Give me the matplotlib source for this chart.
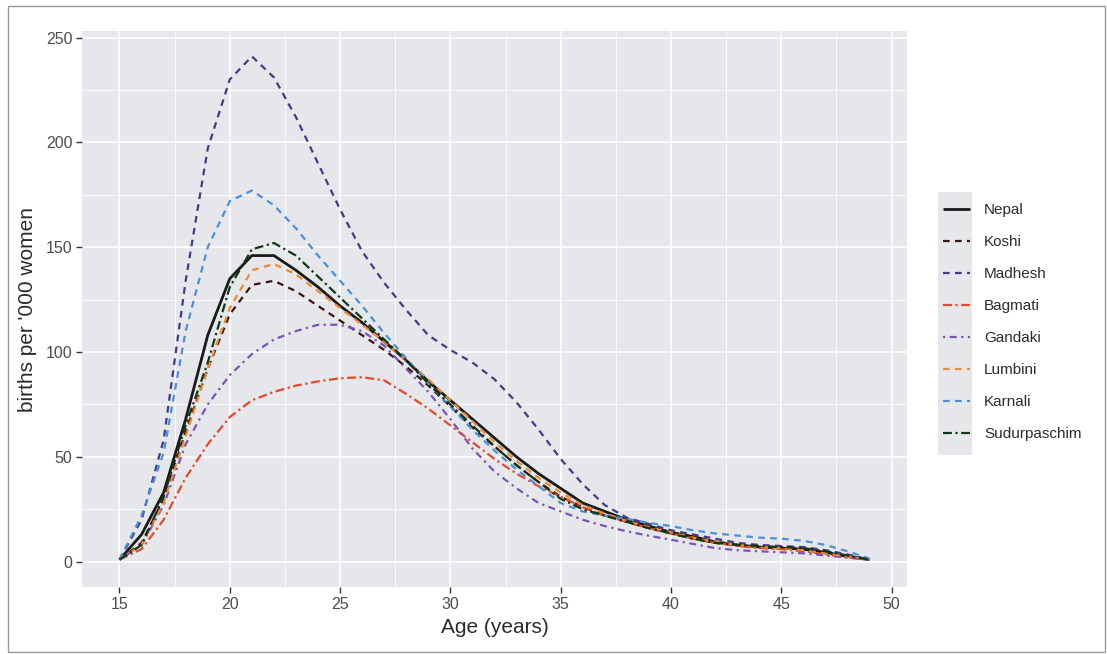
import matplotlib
matplotlib.use("Agg")
import matplotlib.pyplot as plt
from matplotlib.patches import Rectangle
from matplotlib.ticker import MultipleLocator

plt.rcParams["font.family"] = ["Liberation Sans", "DejaVu Sans"]

# Age-specific fertility rates (births per '000 women), single years of age
ages = list(range(15, 50))

nepal = [1, 13, 33, 68, 108, 135, 146, 146, 139, 131, 122, 114, 105, 96, 86,
         77, 68, 59, 50, 42, 35, 28, 24, 20, 17, 14, 12, 9.5, 8, 7, 6.5, 6,
         4.5, 2.5, 1]
koshi = [1, 9, 30, 62, 92, 118, 132, 134, 129, 122, 115, 108, 101, 93, 84,
         74, 64, 55, 46, 38, 31, 26, 22, 19, 16, 13.5, 11, 9, 8, 7, 6.5, 5.5,
         4, 2.5, 1]
madhesh = [1, 20, 58, 134, 197, 230, 241, 231, 212, 190, 168, 148, 133, 120,
           108, 101, 95, 87, 76, 63, 49, 37, 27, 21, 18, 15, 13, 11, 9, 8,
           7.5, 7, 5.5, 3.5, 1]
bagmati = [1, 6, 20, 40, 56, 69, 77, 81, 84, 86, 87.5, 88, 86.5, 80, 73, 65,
           57, 49, 42, 36, 31, 26, 22, 19, 16, 13.5, 11, 9, 7.5, 6.5, 6, 5,
           3.5, 2, 1]
gandaki = [1, 8, 27, 56, 75, 89, 99, 106, 110, 113, 113, 110, 103, 92, 81,
           68, 54, 43, 35, 28, 24, 20, 17, 14.5, 12.4, 10.5, 8.5, 6.5, 5.5, 5,
           4.5, 4, 3, 2, 1]
lumbini = [1, 8, 28, 60, 92, 121, 139, 142, 137, 129, 121, 113, 105, 96, 87,
           77, 67, 57, 48, 40, 33, 27, 23, 19.5, 16.5, 14, 11.5, 9.5, 8, 7,
           6.5, 5.5, 4, 2.5, 1]
karnali = [1, 22, 52, 110, 150, 172, 177, 170, 159, 146, 134, 122, 109, 97,
           85, 74, 63, 53, 44, 36, 28, 24, 22, 20.5, 18.5, 17, 15, 13.5, 12.5,
           11.5, 11, 10, 8, 5, 1.5]
sudurpaschim = [1, 8, 31, 65, 95, 131, 149, 152, 146, 136, 126, 116, 106, 96,
                85, 75, 65, 55, 46, 38, 30, 25, 22, 19, 16, 13.5, 11, 9, 8,
                7.5, 7, 6.5, 5, 3, 1]

regions = ["Nepal", "Koshi", "Madhesh", "Bagmati", "Gandaki", "Lumbini",
           "Karnali", "Sudurpaschim"]
series = [nepal, koshi, madhesh, bagmati, gandaki, lumbini, karnali,
          sudurpaschim]

colors = ["#1a1a1a", "#3a1510", "#433a8c", "#e5482c", "#7d52b8", "#f08a32",
          "#4a8fd8", "#0d3a12"]
dash_patterns = [None, (3.0, 2.4), (3.0, 2.4), (4.0, 1.6, 1.0, 1.6),
                 (1.0, 2.0, 3.2, 2.0), (3.0, 2.4), (3.0, 2.4),
                 (4.0, 1.6, 1.0, 1.6)]
widths = [2.0, 1.6, 1.6, 1.6, 1.6, 1.6, 1.6, 1.6]

W, H = 1107, 654
fig = plt.figure(figsize=(W / 100, H / 100), dpi=100)
fig.patch.set_facecolor("white")

# thin frame around the whole figure
fig.add_artist(Rectangle((8 / W, 1 - 652 / H), (1105 - 8) / W, (652 - 6) / H,
                         transform=fig.transFigure, fill=False,
                         edgecolor="#9a9a9a", linewidth=1.0))

ax = fig.add_axes([82 / W, 1 - 587 / H, (907 - 82) / W, (587 - 31) / H])
ax.set_facecolor("#e6e7ea")
for s in ax.spines.values():
    s.set_visible(False)

handles = []
for name, vals, col, dp, lw in zip(regions, series, colors, dash_patterns, widths):
    line, = ax.plot(ages, vals, color=col, linewidth=lw, label=name,
                    solid_capstyle="butt", dash_capstyle="butt")
    if dp is not None:
        line.set_dashes(dp)
    handles.append(line)

ax.set_xlim(13.3, 50.7)
ax.set_ylim(-12.05, 253.1)
ax.xaxis.set_major_locator(MultipleLocator(5))
ax.xaxis.set_minor_locator(MultipleLocator(2.5))
ax.yaxis.set_major_locator(MultipleLocator(50))
ax.yaxis.set_minor_locator(MultipleLocator(25))
ax.grid(which="major", color="white", linewidth=1.2)
ax.grid(which="minor", color="white", linewidth=0.6)
ax.set_axisbelow(True)
ax.tick_params(which="major", length=4, width=1.0, color="#333333",
               labelsize=11.5, labelcolor="#4d4d4d", pad=3)
ax.tick_params(which="minor", length=0)

ax.set_xlabel("Age (years)", fontsize=15, color="#2b2b2b", labelpad=4.5)
ax.set_ylabel("births per '000 women", fontsize=15, color="#2b2b2b",
              labelpad=6)

# legend key background strip
fig.add_artist(Rectangle((938 / W, 1 - 455 / H), (972 - 938) / W,
                         (455 - 192) / H, transform=fig.transFigure,
                         facecolor="#e6e7ea", edgecolor="none", zorder=0))

leg = ax.legend(handles=handles, loc="upper left",
                bbox_to_anchor=(936 / W, 1 - 196 / H),
                bbox_transform=fig.transFigure, frameon=False, fontsize=11,
                handlelength=1.75, handletextpad=0.95, labelspacing=1.18,
                borderaxespad=0, borderpad=0.45)
for t in leg.get_texts():
    t.set_color("#2b2b2b")

fig.savefig("out.png", dpi=100)
